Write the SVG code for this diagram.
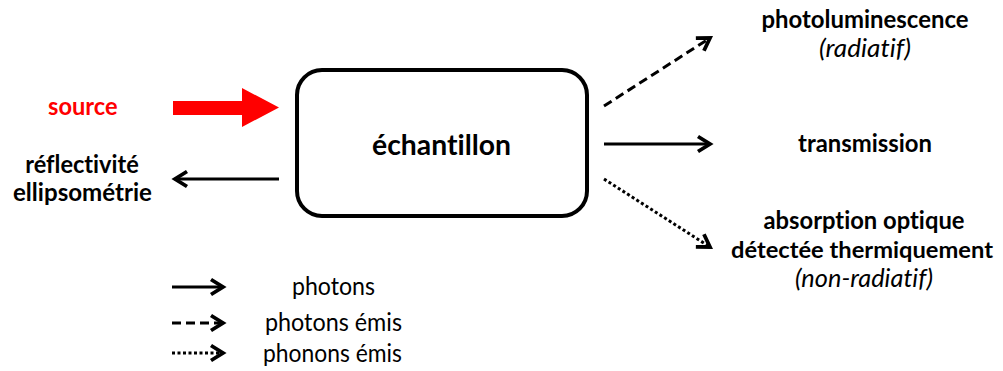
<svg xmlns="http://www.w3.org/2000/svg" width="1003" height="371" viewBox="0 0 1003 371">
<style>
text{font-family:Lato,"Open Sans","Liberation Sans",sans-serif;font-size:25px;fill:#000;text-anchor:middle;font-variant-ligatures:none;font-feature-settings:"liga" 0}
.b{font-weight:bold}
.i{font-style:italic}
.ln{stroke:#000;stroke-width:3;fill:none}
.dash{stroke-dasharray:9 5}
.dot{stroke-dasharray:3 2.5}
</style>
<defs>
<marker id="ah" markerUnits="userSpaceOnUse" orient="auto" refX="0" refY="0" markerWidth="20" markerHeight="20" viewBox="-16 -10 20 20" overflow="visible">
<path d="M-12,-7.5 L0,0 L-12,7.5" fill="none" stroke="#000" stroke-width="3.8" stroke-linejoin="miter"/>
</marker>
</defs>
<rect width="1003" height="371" fill="#fff"/>
<g id="source">
<text class="b" x="82.8" y="115" textLength="69.5" lengthAdjust="spacingAndGlyphs" style="fill:#ff0000">source</text>
</g>
<g id="reflectivite">
<text class="b" x="82" y="173" textLength="113.5" lengthAdjust="spacingAndGlyphs">réflectivité</text>
<text class="b" x="82.5" y="201" textLength="139" lengthAdjust="spacingAndGlyphs">ellipsométrie</text>
</g>
<g id="echantillon">
<rect x="297" y="70" width="290" height="146" rx="25" ry="25" fill="#fff" stroke="#000" stroke-width="4"/>
<text class="b" x="441.5" y="155" style="font-size:29px" textLength="139" lengthAdjust="spacingAndGlyphs">échantillon</text>
</g>
<g id="photoluminescence">
<text class="b" x="865" y="28" textLength="207" lengthAdjust="spacingAndGlyphs">photoluminescence</text>
<text class="i" x="865" y="57" textLength="92" lengthAdjust="spacingAndGlyphs">(radiatif)</text>
</g>
<g id="transmission">
<text class="b" x="865" y="152" textLength="134" lengthAdjust="spacingAndGlyphs">transmission</text>
</g>
<g id="absorption">
<text class="b" x="864" y="229" textLength="201" lengthAdjust="spacingAndGlyphs">absorption optique</text>
<text class="b" x="862" y="258" style="font-size:22px" textLength="262" lengthAdjust="spacingAndGlyphs">détectée thermiquement</text>
<text class="i" x="864" y="287" textLength="138" lengthAdjust="spacingAndGlyphs">(non-radiatif)</text>
</g>
<g id="legend">
<text x="333.5" y="295" textLength="83" lengthAdjust="spacingAndGlyphs">photons</text>
<text x="333.5" y="331" textLength="137" lengthAdjust="spacingAndGlyphs">photons émis</text>
<text x="332.5" y="362" textLength="139" lengthAdjust="spacingAndGlyphs">phonons émis</text>
</g>
<g id="connectors">
<polygon points="173,101 242,101 242,88 279,107.5 242,127 242,115 173,115" fill="#ff0000"/>
<line class="ln" x1="279" y1="179" x2="175" y2="179" marker-end="url(#ah)"/>
<line class="ln dash" x1="604" y1="106" x2="710" y2="38" marker-end="url(#ah)"/>
<line class="ln" x1="604" y1="144" x2="710" y2="144" marker-end="url(#ah)"/>
<line class="ln dot" x1="604" y1="179" x2="710" y2="247" marker-end="url(#ah)"/>
<line class="ln" x1="172" y1="287" x2="223" y2="287" marker-end="url(#ah)"/>
<line class="ln dash" x1="172" y1="323" x2="223" y2="323" marker-end="url(#ah)"/>
<line class="ln dot" x1="172" y1="353" x2="223" y2="353" marker-end="url(#ah)"/>
</g>
</svg>
